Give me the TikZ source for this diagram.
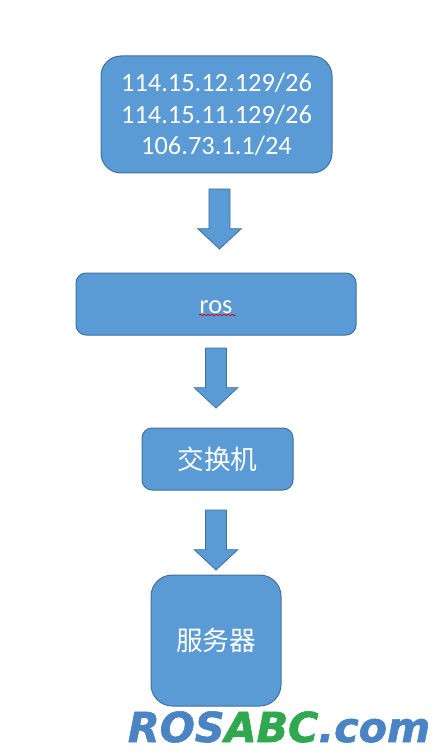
\documentclass[tikz,border=0pt]{standalone}
\usepackage{fontspec}
\setmainfont{Carlito}
\newfontfamily\cjkfont{Noto Sans CJK SC}
\newfontfamily\logofont[BoldItalicFeatures={FakeBold=1.5}]{DejaVu Sans}
\usetikzlibrary{shapes.arrows,decorations.pathmorphing}
\definecolor{officeblue}{HTML}{5B9BD5}
\definecolor{officeedge}{HTML}{41719C}
\definecolor{logoblue}{HTML}{4A84C4}
\definecolor{logogreen}{HTML}{2FA84F}

\begin{document}
\begin{tikzpicture}[
  x=0.75pt, y=-0.75pt,
  every node/.style={inner sep=0pt, outer sep=0pt},
  blockbox/.style={draw=officeedge, line width=0.75pt, fill=officeblue, text=white,
                   align=center, font=\fontsize{19.8}{23.6}\selectfont},
  downarrow/.style={single arrow, draw=officeedge, line width=0.6pt, fill=officeblue,
                    shape border rotate=270, minimum height=45pt, inner sep=7.6pt, anchor=tip,
                    single arrow head extend=8.4pt, single arrow tip angle=94}
]
\useasboundingbox (0,0) rectangle (446,755);
\node[blockbox, minimum width=173.25pt, minimum height=87.75pt, rounded corners=15pt] (subnets) at (216.5,114.5)
  {114.15.12.129/26\\114.15.11.129/26\\106.73.1.1/24};
\node[downarrow] (arrowros) at (219.5,249) {};
\node[blockbox, minimum width=210pt, minimum height=46.5pt, rounded corners=7.5pt, text height=13.5pt, text depth=0pt] (ros) at (216,304) {ros};
\node[downarrow] (arrowswitch) at (216,408) {};
\node[blockbox, minimum width=113.25pt, minimum height=46.5pt, rounded corners=7.5pt, font=\fontsize{20}{23}\cjkfont] (switch) at (217.5,459) {交换机};
\node[downarrow] (arrowserver) at (216,570) {};
\node[blockbox, minimum width=97.5pt, minimum height=98.25pt, rounded corners=16pt, font=\fontsize{20}{23}\cjkfont] (server) at (216,640.5) {服务器};
% spell check mark under ros
\coordinate (squigglea) at (199,315);
\coordinate (squiggleb) at (236,315);
\draw[red!85!black, line width=0.5pt, decorate, decoration={snake, amplitude=0.55pt, segment length=3pt}] (squigglea) -- (squiggleb);
\node[anchor=base, font=\fontsize{31}{31}\logofont\bfseries\itshape] (logo) at (279,742)
  {\textcolor{logoblue}{ROS}\textcolor{logogreen}{ABC}\textcolor{logoblue}{.com}};
\end{tikzpicture}
\end{document}
